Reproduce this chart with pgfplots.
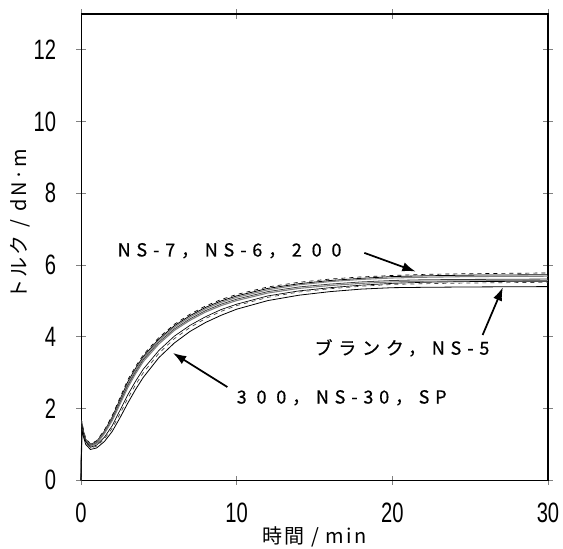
\documentclass[border=0pt]{standalone}
\usepackage{fontspec}
\setmainfont{Liberation Sans}
\newfontfamily\narrow[FakeStretch=0.72]{Liberation Sans}
\newfontfamily\jp[LetterSpace=10]{Noto Sans CJK JP}
\newfontfamily\jpsp[LetterSpace=32,FakeBold=0.6]{Noto Sans CJK JP}
\usepackage{pgfplots}
\usepackage{pgfplotstable}
\pgfplotsset{compat=1.18}
\usetikzlibrary{arrows.meta}

% t, NS-7, NS-6, 200, blank, NS-5, 300, NS-30, SP
\pgfplotstableread{
t    ns7  ns6  s200 blank ns5  s300 ns30 sp
0    0    0    0    0     0    0    0    0
0.05 1.65 1.60 1.55 1.50  1.45 1.55 1.50 1.40
0.15 1.42 1.38 1.34 1.30  1.28 1.32 1.28 1.22
0.30 1.16 1.14 1.12 1.10  1.08 1.08 1.05 1.00
0.60 1.02 1.00 0.98 0.97  0.95 0.92 0.90 0.86
1.0  1.10 1.08 1.06 1.04  1.02 0.98 0.95 0.90
1.5  1.40 1.37 1.34 1.32  1.30 1.20 1.15 1.08
2.0  1.80 1.76 1.72 1.70  1.66 1.52 1.45 1.36
2.5  2.30 2.25 2.20 2.17  2.12 1.95 1.85 1.74
3.0  2.80 2.74 2.68 2.64  2.58 2.38 2.28 2.15
3.5  3.17 3.12 3.07 3.02  2.97 2.76 2.66 2.53
4.0  3.50 3.45 3.40 3.36  3.31 3.10 3.00 2.87
5.0  3.98 3.94 3.90 3.85  3.80 3.62 3.54 3.42
6.0  4.35 4.31 4.27 4.22  4.18 4.02 3.95 3.83
7.0  4.63 4.59 4.55 4.50  4.46 4.32 4.26 4.15
8.0  4.86 4.82 4.78 4.73  4.69 4.56 4.51 4.40
9.0  5.04 5.00 4.96 4.91  4.87 4.76 4.71 4.60
10   5.18 5.14 5.10 5.05  5.01 4.91 4.87 4.77
12   5.39 5.35 5.31 5.26  5.22 5.14 5.10 5.01
14   5.52 5.48 5.45 5.39  5.35 5.28 5.25 5.16
16   5.61 5.57 5.54 5.47  5.43 5.37 5.34 5.26
18   5.67 5.63 5.60 5.53  5.49 5.44 5.41 5.33
20   5.71 5.68 5.64 5.57  5.53 5.49 5.46 5.37
22   5.74 5.70 5.66 5.59  5.55 5.52 5.48 5.38
25   5.76 5.72 5.68 5.60  5.56 5.54 5.50 5.39
30   5.78 5.73 5.69 5.61  5.57 5.55 5.52 5.40
}\torque

\begin{document}
\begin{tikzpicture}
\begin{axis}[
  width=350pt, height=349.5pt, scale only axis,
  xmin=0, xmax=30, ymin=0, ymax=13,
  xtick={0,10,20,30}, ytick={0,2,...,12},
  tick align=center, major tick length=7pt,
  tick style={gray, line width=0.6pt},
  axis line style={line width=0.8pt},
  ticklabel style={font=\narrow\fontsize{21}{21}\selectfont, inner sep=0pt},
  /pgf/number format/assume math mode=true,
  xticklabel style={anchor=center, yshift=-21pt},
  yticklabel style={anchor=east, xshift=-15pt},
  xlabel={\jp\fontsize{15}{15}\selectfont 時間\hspace{5pt}/\hspace{5pt}min},
  ylabel={\jp\fontsize{15}{15}\selectfont トルク\hspace{6pt}/\hspace{6pt}dN·m},
  xlabel style={at={(axis description cs:0.5,0)}, anchor=center, yshift=-42.75pt},
  ylabel style={at={(axis description cs:0,0.55)}, anchor=center, yshift=45.75pt},
  clip=false,
]
\addplot[black, line width=0.5pt, dashed] table[x=t, y=ns7] {\torque};
\addplot[black, line width=0.6pt] table[x=t, y=ns6] {\torque};
\addplot[gray, line width=0.8pt] table[x=t, y=s200] {\torque};
\addplot[darkgray, line width=0.6pt] table[x=t, y=blank] {\torque};
\addplot[gray, line width=0.8pt] table[x=t, y=ns5] {\torque};
\addplot[black, line width=0.5pt] table[x=t, y=s300] {\torque};
\addplot[darkgray, line width=0.5pt, dashed] table[x=t, y=ns30] {\torque};
\addplot[black, line width=0.6pt] table[x=t, y=sp] {\torque};

\node[anchor=west, font=\jpsp\fontsize{13.5}{13.5}\selectfont] at (axis cs:2.05,6.4) {NS-7，NS-6，2 0 0};
\draw[-{Latex[length=10pt,width=7pt]}, line width=1.3pt] (axis cs:18.2,6.34) -- (axis cs:21.5,5.82);

\node[anchor=west, font=\jpsp\fontsize{13.5}{13.5}\selectfont] at (axis cs:14.7,3.69) {ブランク，NS-5};
\draw[-{Latex[length=10pt,width=7pt]}, line width=1.3pt] (axis cs:25.8,4.05) -- (axis cs:27.1,5.38);

\node[anchor=west, font=\jpsp\fontsize{13.5}{13.5}\selectfont] at (axis cs:9.7,2.3) {3 0 0，NS-30，SP};
\draw[-{Latex[length=10pt,width=7pt]}, line width=1.3pt] (axis cs:9.4,2.6) -- (axis cs:5.9,3.55);

\coordinate (ll) at (rel axis cs:0,0);
\coordinate (ur) at (rel axis cs:1,1);
\end{axis}
\pgfresetboundingbox
\path ([shift={(-60.75pt,-51pt)}]ll) rectangle ([shift={(11.25pt,10.5pt)}]ur);
\end{tikzpicture}
\end{document}
